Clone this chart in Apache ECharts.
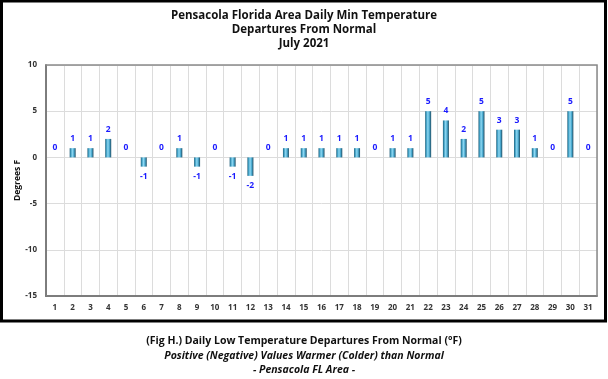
<!DOCTYPE html>
<html>
<head>
<meta charset="utf-8">
<script src="https://cdn.jsdelivr.net/npm/echarts@6/dist/echarts.min.js"></script>
<style>
html,body{margin:0;padding:0;background:#fff;}
#chart{width:608px;height:379px;}
</style>
</head>
<body>
<div id="chart"></div>
<script>
const days = ['1','2','3','4','5','6','7','8','9','10','11','12','13','14','15','16','17','18','19','20','21','22','23','24','25','26','27','28','29','30','31'];
const departures = [0,1,1,2,0,-1,0,1,-1,0,-1,-2,0,1,1,1,1,1,0,1,1,5,4,2,5,3,3,1,0,5,0];
const yTicks = {min: -15, max: 10, interval: 5};
const titleLines = ['Pensacola Florida Area Daily Min Temperature', 'Departures From Normal', 'July 2021'];
const captionLines = ['(Fig H.) Daily Low Temperature Departures From Normal (°F)', 'Positive (Negative) Values Warmer (Colder) than Normal', '- Pensacola FL Area -'];
const yName = 'Degrees F';

const FONT = '"Open Sans", "Noto Sans", sans-serif';
const chart = echarts.init(document.getElementById('chart'), null, {renderer: 'canvas'});

const barColor = new echarts.graphic.LinearGradient(0, 0, 1, 0, [
  {offset: 0, color: '#1f5f7a'},
  {offset: 0.2, color: '#3f9fc4'},
  {offset: 0.45, color: '#8fd8f2'},
  {offset: 0.7, color: '#4aaad0'},
  {offset: 1, color: '#1d4a60'}
]);

const seriesData = departures.map(v => ({
  value: v,
  label: {position: v < 0 ? 'bottom' : 'top'}
}));

const titles = titleLines.map((t, i) => ({
  text: t, left: 'center', top: 4.5 + i * 14,
  textStyle: {fontFamily: FONT, fontSize: 11.5, fontWeight: 'bold', color: '#111'}
}));
captionLines.forEach((t, i) => {
  titles.push({
    text: t, left: 'center', top: 331 + i * 14.5,
    textStyle: {fontFamily: FONT, fontSize: 10.5, fontWeight: 'bold', fontStyle: i > 0 ? 'italic' : 'normal', color: '#111'}
  });
});

chart.setOption({
  animation: false,
  title: titles,
  graphic: [{
    type: 'rect', z: 100, silent: true,
    shape: {x: 1.5, y: 1, width: 604, height: 320},
    style: {fill: 'none', stroke: '#000', lineWidth: 3}
  }, {
    type: 'rect', z: 1, silent: true,
    shape: {x: 46, y: 65, width: 551, height: 231},
    style: {fill: 'none', stroke: '#8a8a8a', lineWidth: 1.5}
  }],
  grid: {left: 46, right: 11, top: 65, bottom: 83},
  xAxis: {
    type: 'category', data: days,
    axisLine: {show: true, onZero: false, lineStyle: {color: '#222', width: 1.5}},
    axisTick: {show: false},
    axisLabel: {fontFamily: FONT, fontSize: 8, fontWeight: 'bold', color: '#333', margin: 8},
    splitLine: {show: true, lineStyle: {color: '#dcdcdc', width: 1}}
  },
  yAxis: {
    type: 'value', min: yTicks.min, max: yTicks.max, interval: yTicks.interval,
    name: yName, nameLocation: 'middle', nameGap: 24, nameMoveOverlap: false,
    nameTextStyle: {fontFamily: FONT, fontSize: 8.5, fontWeight: 'bold', color: '#111'},
    axisLine: {show: true, lineStyle: {color: '#222', width: 1.5}},
    axisTick: {show: false},
    axisLabel: {fontFamily: FONT, fontSize: 8, fontWeight: 'bold', color: '#333', margin: 9},
    splitLine: {show: true, lineStyle: {color: '#dcdcdc', width: 1}}
  },
  series: [{
    type: 'bar', data: seriesData, barWidth: 6,
    itemStyle: {color: barColor},
    label: {show: true, distance: 5, fontFamily: FONT, fontSize: 8.5, fontWeight: 'bold', color: '#1a1aff'}
  }]
});
</script>
</body>
</html>
